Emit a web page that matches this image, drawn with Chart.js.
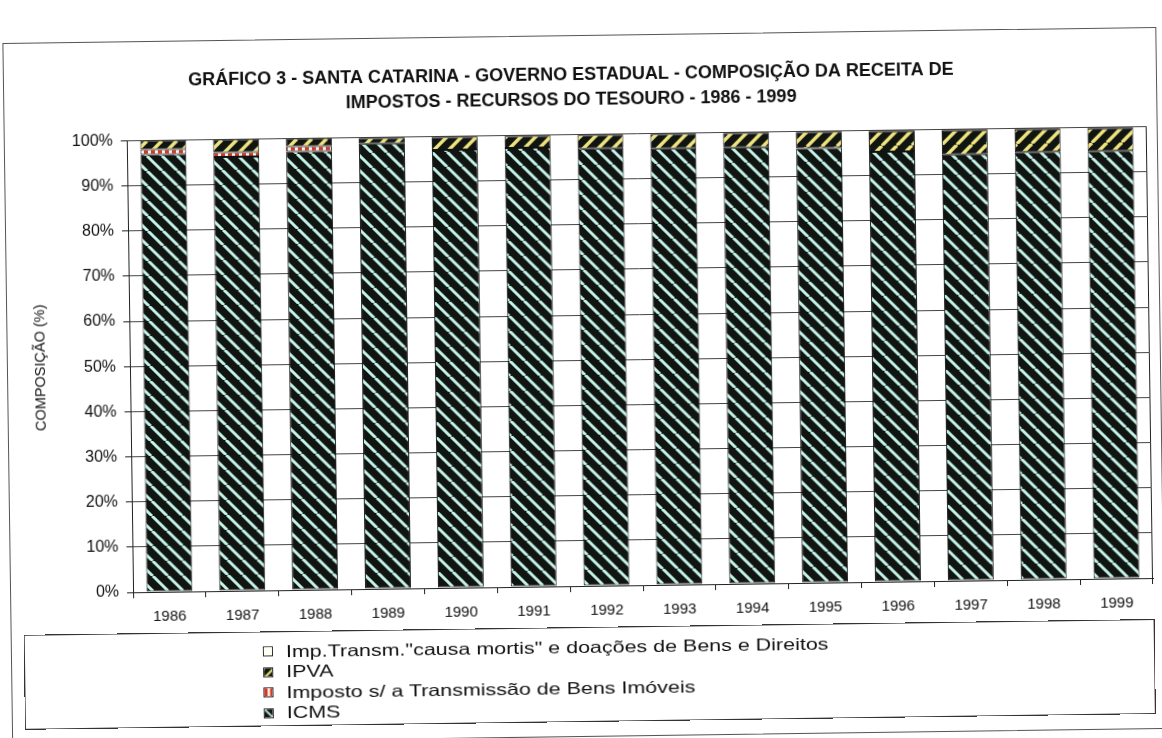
<!DOCTYPE html>
<html lang="pt-BR">
<head>
<meta charset="utf-8">
<title>Santa Catarina - Composição da receita de impostos</title>
<script src="https://cdn.jsdelivr.net/npm/chart.js@4/dist/chart.umd.min.js"></script>
<style>
  html, body { margin: 0; background: #fff; overflow: hidden; }
  #page {
    position: relative; width: 1162px; height: 738px; background: #fff;
    transform: rotate(-0.8deg); transform-origin: 50% 50%;
    font-family: "Liberation Sans", Arial, sans-serif; color: #111;
  }
  #frame { position: absolute; left: 7px; top: 35px; width: 1152px; height: 700px; border: 1px solid #555; }
  #chart { position: absolute; left: 0; top: 0; }
  #legend { position: absolute; left: 20px; top: 627px; width: 1129px; height: 93px; border: 1px solid #333; }
  #legend ul { list-style: none; margin: 0; padding: 0; position: absolute; left: 238px; top: 9px; }
  #legend li { height: 20.5px; display: flex; align-items: center; white-space: nowrap; }
  #legend canvas { width: 10px; height: 10px; margin-right: 13px; border: 1px solid #222; box-sizing: border-box; }
  #legend span { display: inline-block; font-size: 16.5px; transform: scaleX(1.3); transform-origin: 0 50%; }
</style>
</head>
<body>
<div id="page">
  <div id="frame"></div>
  <canvas id="chart" width="1162" height="630"></canvas>
  <div id="legend"><ul></ul></div>
</div>
<script>
// anos e participação (%) de cada imposto na receita
const anos = ['1986', '1987', '1988', '1989', '1990', '1991', '1992', '1993', '1994', '1995', '1996', '1997', '1998', '1999'];
const icms  = [96.9, 96.1, 97.1, 98.6, 97.0, 97.2, 96.8, 96.6, 96.6, 96.2, 95.2, 94.4, 94.7, 94.7];
const itbi  = [1.1, 1.0, 1.1, 0, 0, 0, 0, 0, 0, 0, 0, 0, 0, 0];
const ipva  = [2.0, 2.9, 1.8, 1.2, 2.8, 2.6, 3.0, 3.2, 3.2, 3.6, 4.5, 5.3, 5.0, 5.0];
const itcmd = [0, 0, 0, 0.2, 0.2, 0.2, 0.2, 0.2, 0.2, 0.2, 0.3, 0.3, 0.3, 0.3];
const escalaY = { min: 0, max: 100, passo: 10 };

const titulo = [
  'GRÁFICO 3 - SANTA CATARINA - GOVERNO ESTADUAL - COMPOSIÇÃO DA RECEITA DE',
  'IMPOSTOS - RECURSOS DO TESOURO - 1986 - 1999'
];

Chart.defaults.font.family = '"Liberation Sans", Arial, sans-serif';
Chart.defaults.color = '#111';

// ladrilhos para as hachuras das barras
function listras(fundo, cor, dir, tam, esp) {
  const c = document.createElement('canvas');
  c.width = c.height = tam;
  const g = c.getContext('2d');
  g.fillStyle = fundo;
  g.fillRect(0, 0, tam, tam);
  g.strokeStyle = cor;
  g.lineWidth = esp;
  [-tam, 0, tam].forEach(k => {
    g.beginPath();
    if (dir === '\\') { g.moveTo(k, 0); g.lineTo(k + tam, tam); }
    else { g.moveTo(k, tam); g.lineTo(k + tam, 0); }
    g.stroke();
  });
  return c;
}

function verticais(a, b, la, lb) {
  const c = document.createElement('canvas');
  c.width = la + lb; c.height = 2;
  const g = c.getContext('2d');
  g.fillStyle = a; g.fillRect(0, 0, la, 2);
  g.fillStyle = b; g.fillRect(la, 0, lb, 2);
  return c;
}

const ladrilhos = {
  icms: listras('#101512', '#c6f2ea', '\\', 15, 3),
  ipva: listras('#101512', '#efe47e', '/', 15, 3.4),
  itbi: verticais('#d13a24', '#fbf4ee', 4, 3)
};

const canvas = document.getElementById('chart');
const ctx = canvas.getContext('2d');
const padrao = t => ctx.createPattern(t, 'repeat');

const series = [
  { label: 'ICMS', data: icms, backgroundColor: padrao(ladrilhos.icms), tile: ladrilhos.icms },
  { label: 'Imposto s/ a Transmissão de Bens Imóveis', data: itbi, backgroundColor: padrao(ladrilhos.itbi), tile: ladrilhos.itbi },
  { label: 'IPVA', data: ipva, backgroundColor: padrao(ladrilhos.ipva), tile: ladrilhos.ipva },
  { label: 'Imp.Transm."causa mortis" e doações de Bens e Direitos', data: itcmd, backgroundColor: '#fffff2', tile: null }
];

const chart = new Chart(canvas, {
  type: 'bar',
  data: {
    labels: anos,
    datasets: series.map(s => ({
      label: s.label,
      data: s.data,
      backgroundColor: s.backgroundColor,
      borderColor: '#111',
      borderWidth: 1,
      borderSkipped: false,
      barPercentage: 0.63,
      categoryPercentage: 1
    }))
  },
  options: {
    responsive: false,
    animation: false,
    devicePixelRatio: 1,
    layout: { padding: { left: 0, right: 12, top: 0, bottom: 0 } },
    plugins: {
      legend: { display: false },
      tooltip: { enabled: false },
      title: {
        display: true,
        text: titulo,
        color: '#111',
        font: { size: 18, weight: 'bold', lineHeight: 1.4 },
        padding: { top: 62, bottom: 22 }
      }
    },
    scales: {
      x: {
        stacked: true,
        afterFit: s => { s.height = 44; },
        border: { color: '#222', width: 1 },
        grid: {
          offset: true,
          drawOnChartArea: true,
          color: c => c.type === 'tick' ? 'transparent' : '#222',
          tickColor: '#222',
          tickLength: 6
        },
        ticks: { font: { size: 15 }, padding: 10, maxRotation: 0 }
      },
      y: {
        stacked: true,
        min: escalaY.min,
        max: escalaY.max,
        afterFit: s => { s.width = 130; },
        border: { color: '#222', width: 1 },
        grid: { color: '#444', tickColor: '#222', tickLength: 6 },
        ticks: {
          stepSize: escalaY.passo,
          font: { size: 16 },
          padding: 8,
          callback: v => v + '%'
        },
        title: {
          display: true,
          text: 'COMPOSIÇÃO (%)',
          font: { size: 14.5 },
          padding: { top: 32, bottom: 0 }
        }
      }
    }
  }
});

// legenda em lista vertical, na ordem inversa do empilhamento
const lista = document.querySelector('#legend ul');
series.slice().reverse().forEach(s => {
  const li = document.createElement('li');
  const sw = document.createElement('canvas');
  sw.width = sw.height = 10;
  const g = sw.getContext('2d');
  g.fillStyle = s.tile ? g.createPattern(s.tile, 'repeat') : s.backgroundColor;
  if (s.tile === ladrilhos.icms || s.tile === ladrilhos.ipva) {
    g.save(); g.scale(0.8, 0.8); g.fillRect(0, 0, 13, 13); g.restore();
  } else {
    g.fillRect(0, 0, 10, 10);
  }
  const tx = document.createElement('span');
  tx.textContent = s.label;
  li.appendChild(sw);
  li.appendChild(tx);
  lista.appendChild(li);
});
</script>
</body>
</html>
